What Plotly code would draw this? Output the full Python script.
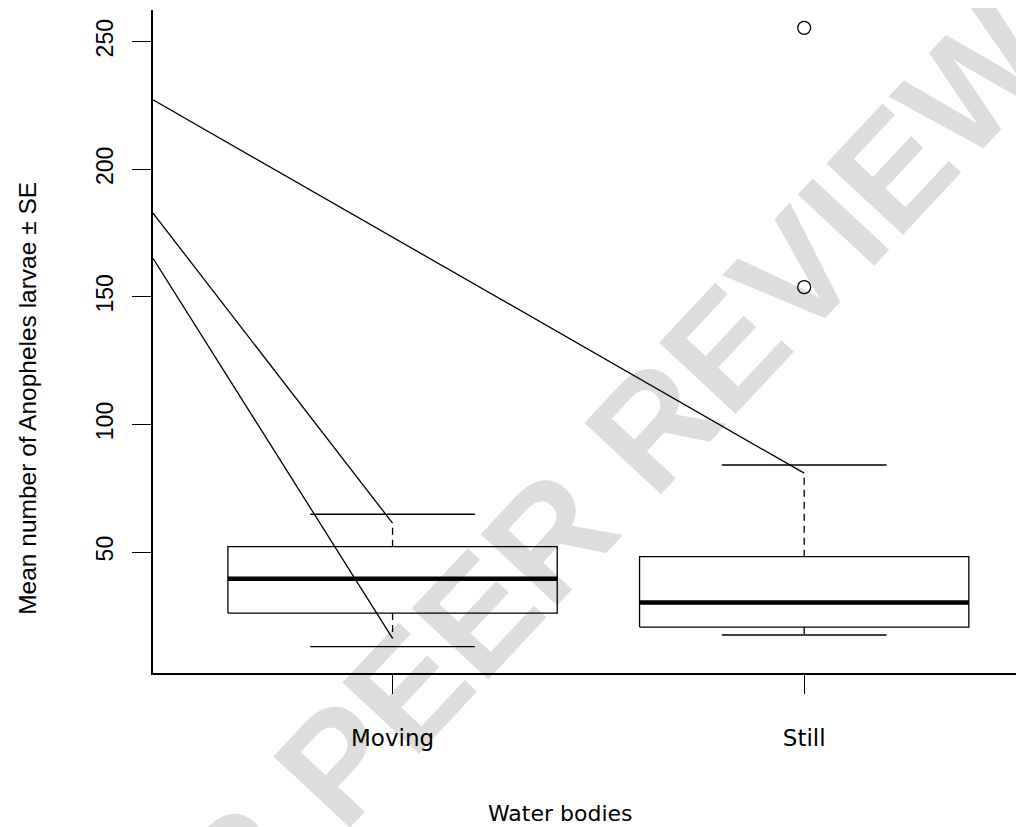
import plotly.graph_objects as go

# ---- data ----
categories = ["Moving", "Still"]
cat_pos = [1, 2]
q1 = [26.1, 20.6]
median = [39.5, 30.2]
q3 = [52.1, 48.2]
whisker_hi = [61.3, 80.9]     # end of dashed whisker (upper)
whisker_lo = [16.2, 17.5]     # end of dashed whisker (lower)
cap_hi = [64.8, 84.1]         # staple (upper)
cap_lo = [12.9, 17.5]         # staple (lower)
outlier_x = [2, 2]
outlier_y = [255.4, 153.8]

# straight lines drawn from the left edge of the plot to the whisker ends
line_x0 = [0.418, 0.418, 0.418]
line_y0 = [227.2, 182.8, 165.1]
line_x1 = [2, 1, 1]
line_y1 = [80.9, 61.3, 16.2]

y_ticks = [50, 100, 150, 200, 250]
x_title = "Water bodies"
y_title = "Mean number of Anopheles larvae ± SE"
watermark = "UNDER PEER REVIEW"

# ---- styling ----
BOX_HALF = 0.4
CAP_HALF = 0.2
LW = 1.3
X_RANGE = [0.418, 2.534]
Y_RANGE = [2.6, 262.4]

fig = go.Figure()

# watermark (behind everything)
wx, wy = 0.347, 0.085
fig.add_shape(type="rect", xref="paper", yref="paper",
              x0=wx - 0.01, x1=wx + 0.01, y0=wy - 0.01, y1=wy + 0.01,
              line=dict(width=0), fillcolor="rgba(0,0,0,0)", layer="below",
              label=dict(text=watermark, textangle=-47, textposition="middle center",
                         font=dict(family="Liberation Sans", size=152,
                                   color="#dddddd", weight="bold")))

def seg(xs, ys, width=LW, dash=None):
    fig.add_trace(go.Scatter(x=xs, y=ys, mode="lines",
                             line=dict(color="black", width=width, dash=dash),
                             hoverinfo="skip", showlegend=False))

for i, c in enumerate(cat_pos):
    # box
    seg([c - BOX_HALF, c + BOX_HALF, c + BOX_HALF, c - BOX_HALF, c - BOX_HALF],
        [q1[i], q1[i], q3[i], q3[i], q1[i]])
    # median
    seg([c - BOX_HALF, c + BOX_HALF], [median[i], median[i]], width=4.5)
    # dashed whiskers
    seg([c, c], [q3[i], whisker_hi[i]], dash="7px,5px")
    seg([c, c], [q1[i], whisker_lo[i]], dash="7px,5px")
    # staples
    seg([c - CAP_HALF, c + CAP_HALF], [cap_hi[i], cap_hi[i]])
    seg([c - CAP_HALF, c + CAP_HALF], [cap_lo[i], cap_lo[i]])

for i in range(len(line_y0)):
    seg([line_x0[i], line_x1[i]], [line_y0[i], line_y1[i]])

fig.add_trace(go.Scatter(x=outlier_x, y=outlier_y, mode="markers",
                         marker=dict(symbol="circle-open", size=13, color="black",
                                     line=dict(width=1.3)),
                         hoverinfo="skip", showlegend=False))

fig.update_layout(
    width=1016, height=819,
    margin=dict(l=145, r=0, t=2, b=154),
    paper_bgcolor="white", plot_bgcolor="rgba(0,0,0,0)",
    showlegend=False,
    xaxis=dict(range=X_RANGE, tickvals=cat_pos, ticktext=categories,
               showgrid=False, zeroline=False, showline=True, linecolor="black",
               linewidth=1.7, ticks="outside", ticklen=19, tickwidth=1.3,
               tickcolor="black", ticklabelstandoff=25,
               tickfont=dict(family="DejaVu Sans", size=23, color="black")),
    yaxis=dict(range=Y_RANGE, tickvals=y_ticks, showgrid=False, zeroline=False,
               showline=True, linecolor="black", linewidth=1.7, ticks="outside",
               ticklen=19, tickwidth=1.3, tickcolor="black", tickangle=-90,
               ticklabelstandoff=10,
               tickfont=dict(family="Liberation Sans", size=23, color="black")),
    annotations=[
        dict(text=x_title, xref="paper", yref="paper", x=0.4673, y=-0.2112,
             xanchor="center", yanchor="middle", showarrow=False,
             font=dict(family="DejaVu Sans", size=22, color="black")),
        dict(text=y_title, xref="paper", yref="paper", x=-0.1441, y=0.4143,
             xanchor="center", yanchor="middle", showarrow=False, textangle=-90,
             font=dict(family="Liberation Sans", size=24.5, color="black")),
    ],
)

fig.write_html("out.html")
